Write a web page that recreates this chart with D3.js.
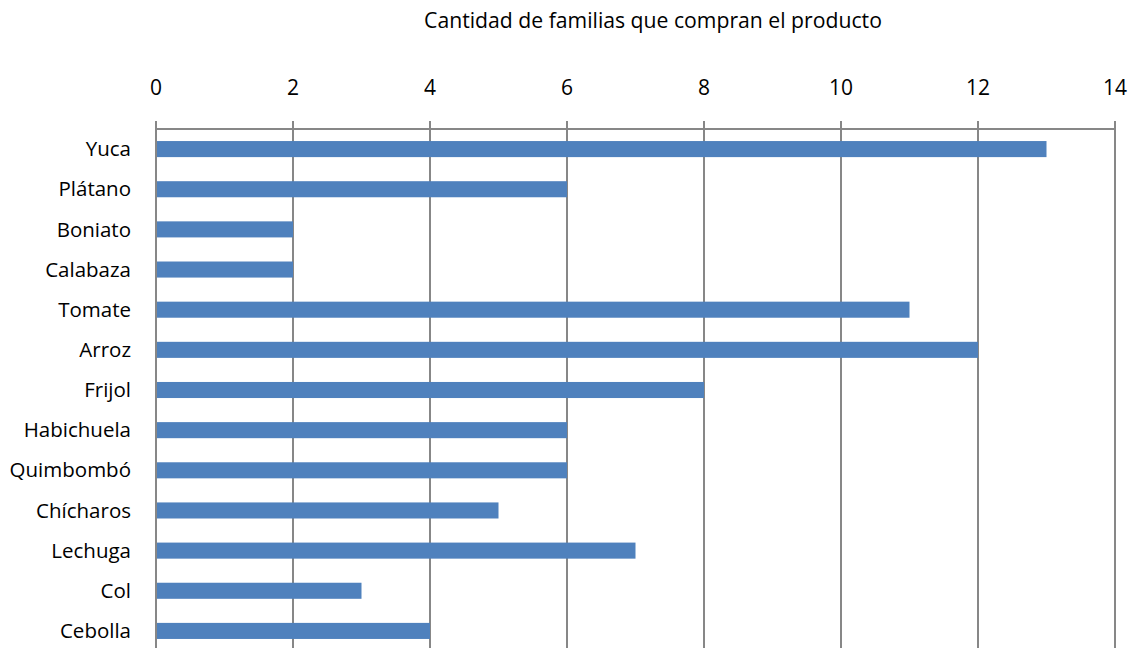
<!DOCTYPE html>
<html>
<head>
<meta charset="utf-8">
<script src="https://cdn.jsdelivr.net/npm/d3@7"></script>
<style>
  body { margin: 0; background: #fff; }
  svg { display: block; font-family: "Open Sans", Lato, sans-serif; }
</style>
</head>
<body>
<div id="chart"></div>
<script>
// data
var categories = ["Yuca", "Plátano", "Boniato", "Calabaza", "Tomate", "Arroz", "Frijol",
    "Habichuela", "Quimbombó", "Chícharos", "Lechuga", "Col", "Cebolla"];
var values = [13, 6, 2, 2, 11, 12, 8, 6, 6, 5, 7, 3, 4];
var tickValues = [0, 2, 4, 6, 8, 10, 12, 14];
var title = "Cantidad de familias que compran el producto";

var width = 1135, height = 648;
var plotLeft = 156, plotRight = 1115, plotTop = 129, plotBottom = 651;

var svg = d3.select("#chart").append("svg")
    .attr("width", width)
    .attr("height", height);

var x = d3.scaleLinear().domain([0, 14]).range([plotLeft, plotRight]);
var y = d3.scaleBand().domain(categories).range([plotTop, plotBottom]).paddingInner(0.6).paddingOuter(0.3);

// title
svg.append("text")
    .attr("x", 653)
    .attr("y", 28)
    .attr("text-anchor", "middle")
    .style("font-size", "21.2px")
    .style("fill", "#000")
    .text(title);

// gridlines
svg.selectAll("line.grid")
    .data(tickValues)
    .enter()
    .append("line")
    .attr("class", "grid")
    .attr("x1", function (d) { return x(d); })
    .attr("x2", function (d) { return x(d); })
    .attr("y1", plotTop - 8)
    .attr("y2", height)
    .style("stroke", "#878787")
    .style("stroke-width", 2);

// top axis line
svg.append("line")
    .attr("x1", plotLeft)
    .attr("x2", plotRight)
    .attr("y1", plotTop)
    .attr("y2", plotTop)
    .style("stroke", "#878787")
    .style("stroke-width", 2);

// tick labels
svg.selectAll("text.tick")
    .data(tickValues)
    .enter()
    .append("text")
    .attr("class", "tick")
    .attr("x", function (d) { return x(d); })
    .attr("y", 95)
    .attr("text-anchor", "middle")
    .style("font-size", "21px")
    .text(function (d) { return d; });

// bars
svg.selectAll("rect.bar")
    .data(values)
    .enter()
    .append("rect")
    .attr("class", "bar")
    .attr("x", x(0) + 1)
    .attr("y", function (d, i) { return y(categories[i]); })
    .attr("width", function (d) { return x(d) - x(0) - 1; })
    .attr("height", y.bandwidth())
    .style("fill", "#4F81BD");

// category labels
svg.selectAll("text.cat")
    .data(categories)
    .enter()
    .append("text")
    .attr("class", "cat")
    .attr("x", 131)
    .attr("y", function (d) { return y(d) + y.bandwidth() / 2; })
    .attr("dy", "0.35em")
    .attr("text-anchor", "end")
    .style("font-size", "20.5px")
    .text(function (d) { return d; });
</script>
</body>
</html>
